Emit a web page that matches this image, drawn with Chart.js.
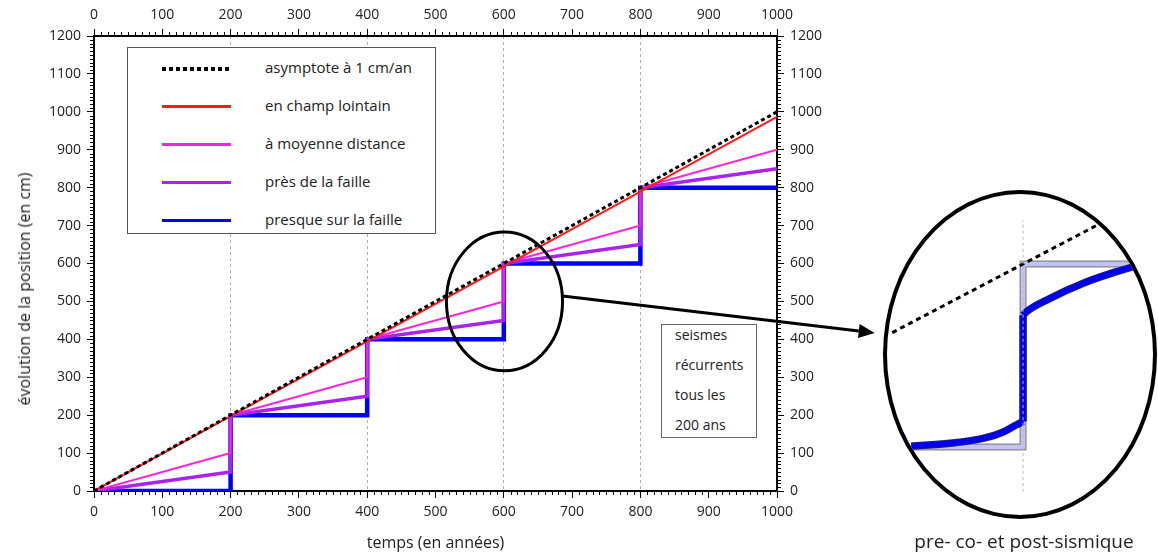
<!DOCTYPE html>
<html lang="fr">
<head>
<meta charset="utf-8">
<script src="https://cdn.jsdelivr.net/npm/chart.js@4.4.1/dist/chart.umd.min.js"></script>
<style>
  body { margin: 0; background: #fff; font-family: "Open Sans", sans-serif; color: #222; }
  #wrap { position: relative; width: 1158px; height: 554px; overflow: hidden; }
  #main { position: absolute; left: 0; top: 0; width: 1158px; height: 554px; }
  #ytitle { position: absolute; left: 24px; top: 289px; transform: translate(-50%, -50%) rotate(-90deg);
            white-space: nowrap; font-size: 16px; }
  #legend { position: absolute; left: 127px; top: 47px; width: 309px; height: 187px; box-sizing: border-box;
            border: 1.5px solid #555; background: #fff; }
  #legend .row { position: absolute; left: 0; height: 20px; }
  #legend .sample { position: absolute; left: 34px; width: 69px; height: 3px; top: 9px; }
  #legend .txt { position: absolute; left: 137px; top: -1px; font-size: 15px; white-space: nowrap; }
  #note { position: absolute; left: 661px; top: 324px; width: 96px; height: 114px; box-sizing: border-box;
          border: 1.5px solid #666; background: #fff; font-size: 14px; line-height: 30px; padding-left: 13px; }
  #note div { margin-top: -5px; }
  #inset { position: absolute; left: 883px; top: 190px; width: 274px; height: 329px; box-sizing: border-box;
           border: 4px solid #000; border-radius: 50%; overflow: hidden; background: #fff; }
  #insetTitle { position: absolute; left: 1024px; top: 528px; transform: translateX(-50%); font-size: 19px; white-space: nowrap; }
</style>
</head>
<body>
<div id="wrap">
  <div id="main"><canvas id="chart"></canvas></div>
  <div id="ytitle">évolution de la position (en cm)</div>
  <div id="legend"></div>
  <div id="note"><div>seismes<br>récurrents<br>tous les<br>200 ans</div></div>
  <div id="inset"><canvas id="zoomChart"></canvas></div>
  <div id="insetTitle">pre- co- et post-sismique</div>
</div>
<script>
// axes
const xTicksMin = 0, xTicksMax = 1000, xStep = 100;
const yTicksMin = 0, yTicksMax = 1200, yStep = 100;
const minorStep = 10;
const gridYears = [200, 400, 600, 800];

// main series (temps en années -> position en cm)
const lineYears = [0, 1000];
const asymptote = [0, 1000];
const champLointain = [0, 987];
const stepYears = [0, 200, 200, 400, 400, 600, 600, 800, 800, 1000];
const moyenneDistance = [0, 100, 200, 300, 400, 500, 600, 700, 800, 900];
const presFaille = [0, 50, 200, 250, 400, 450, 600, 650, 800, 850];
const surFaille = [0, 0, 200, 200, 400, 400, 600, 600, 800, 800];

const labels = ['asymptote à 1 cm/an', 'en champ lointain', 'à moyenne distance', 'près de la faille', 'presque sur la faille'];
const colors = ['#000000', '#ff1a1a', '#ff22dd', '#aa22f0', '#0000ff'];

// circled region and arrow (data units of the main chart)
const circleCenter = [601, 500];
const circleRadius = [85, 183];
const arrowFrom = [686, 514];
const arrowTo = [1143, 417];

// zoomed inset (around the earthquake at 600 ans)
const insetX = [522, 674.5];
const insetY = [325.7, 676.5];
const guideX = [600, 600], guideY = [351, 648];
const asymX = [525, 646];
const stepX = [536, 600, 600, 664], stepY = [400, 400, 600, 600];
const preX = [536, 558, 577, 589, 596, 600], preY = [401, 404, 409.5, 416.7, 424, 428];
const coX = [600, 600], coY = [428, 544];
const postX = [600, 602, 615.5, 634.5, 653.5, 665], postY = [544, 548, 562.5, 579, 591.6, 598];

const pts = (xs, ys) => xs.map((x, i) => ({ x: x, y: ys[i] }));

const datasets = [
  { label: labels[0], data: pts(lineYears, asymptote), borderColor: colors[0], borderWidth: 3, borderDash: [4, 3] },
  { label: labels[1], data: pts(lineYears, champLointain), borderColor: colors[1], borderWidth: 2 },
  { label: labels[2], data: pts(stepYears, moyenneDistance), borderColor: colors[2], borderWidth: 2 },
  { label: labels[3], data: pts(stepYears, presFaille), borderColor: colors[3], borderWidth: 3.5 },
  { label: labels[4], data: pts(stepYears, surFaille), borderColor: colors[4], borderWidth: 4.5 }
];

const tickFont = { family: '"Open Sans", sans-serif', size: 14 };

function axis(position, min, max, step, size, extra) {
  return Object.assign({
    type: 'linear', position: position, min: min, max: max,
    ticks: { stepSize: step, color: '#222', font: tickFont, padding: 6, callback: (v) => String(v) },
    grid: { drawOnChartArea: false, tickLength: 7, tickColor: '#000', tickWidth: 1 },
    border: { display: true, color: '#000', width: 2 },
    afterFit: (scale) => {
      if (scale.isHorizontal()) scale.height = size; else scale.width = size;
    }
  }, extra || {});
}

// minor ticks, circled area and arrow
const decorations = {
  id: 'decorations',
  afterDraw(chart) {
    const ctx = chart.ctx;
    const sx = chart.scales.x, sy = chart.scales.y;
    ctx.save();
    ctx.strokeStyle = '#000';
    ctx.lineWidth = 1;
    ['x', 'x2'].forEach(id => {
      const s = chart.scales[id];
      const y0 = id === 'x' ? sy.bottom : sy.top;
      const dir = id === 'x' ? 1 : -1;
      for (let v = s.min; v <= s.max; v += minorStep) {
        if (v % xStep === 0) continue;
        const px = Math.round(s.getPixelForValue(v)) + 0.5;
        ctx.beginPath(); ctx.moveTo(px, y0); ctx.lineTo(px, y0 + dir * 4); ctx.stroke();
      }
    });
    ['y', 'y2'].forEach(id => {
      const s = chart.scales[id];
      const x0 = id === 'y' ? sx.left : sx.right;
      const dir = id === 'y' ? -1 : 1;
      for (let v = s.min; v <= s.max; v += minorStep) {
        if (v % yStep === 0) continue;
        const py = Math.round(s.getPixelForValue(v)) + 0.5;
        ctx.beginPath(); ctx.moveTo(x0, py); ctx.lineTo(x0 + dir * 4, py); ctx.stroke();
      }
    });

    // ellipse around the 600 ans earthquake
    const cx = sx.getPixelForValue(circleCenter[0]);
    const cy = sy.getPixelForValue(circleCenter[1]);
    const rx = sx.getPixelForValue(circleCenter[0] + circleRadius[0]) - cx;
    const ry = cy - sy.getPixelForValue(circleCenter[1] + circleRadius[1]);
    ctx.lineWidth = 3;
    ctx.beginPath(); ctx.ellipse(cx, cy, rx, ry, 0, 0, Math.PI * 2); ctx.stroke();

    // arrow towards the inset
    const x1 = sx.getPixelForValue(arrowFrom[0]), y1 = sy.getPixelForValue(arrowFrom[1]);
    const x2 = sx.getPixelForValue(arrowTo[0]), y2 = sy.getPixelForValue(arrowTo[1]);
    const a = Math.atan2(y2 - y1, x2 - x1);
    const headLen = 16, headHalf = 7;
    const bx = x2 - headLen * Math.cos(a), by = y2 - headLen * Math.sin(a);
    ctx.beginPath(); ctx.moveTo(x1, y1); ctx.lineTo(bx, by); ctx.stroke();
    ctx.fillStyle = '#000';
    ctx.beginPath();
    ctx.moveTo(x2, y2);
    ctx.lineTo(bx + headHalf * Math.sin(a), by - headHalf * Math.cos(a));
    ctx.lineTo(bx - headHalf * Math.sin(a), by + headHalf * Math.cos(a));
    ctx.closePath(); ctx.fill();
    ctx.restore();
  }
};

const mainChart = new Chart(document.getElementById('chart'), {
  type: 'line',
  data: { datasets: datasets },
  options: {
    responsive: true,
    maintainAspectRatio: false,
    animation: false,
    layout: { padding: 0 },
    elements: { point: { radius: 0 }, line: { tension: 0, fill: false } },
    plugins: { legend: { display: false }, tooltip: { enabled: false } },
    scales: {
      x: axis('bottom', xTicksMin, xTicksMax, xStep, 63, {
        grid: {
          drawOnChartArea: true, tickLength: 7, tickColor: '#000', tickWidth: 1, lineWidth: 1,
          color: (c) => gridYears.includes(c.tick && c.tick.value) ? '#b0b0b0' : 'rgba(0,0,0,0)'
        },
        border: { display: true, color: '#000', width: 2, dash: [3, 3] },
        title: { display: true, text: 'temps (en années)', color: '#222',
                 font: { family: '"Open Sans", sans-serif', size: 16 }, padding: { top: 0, bottom: 1 } }
      }),
      x2: axis('top', xTicksMin, xTicksMax, xStep, 36),
      y: axis('left', yTicksMin, yTicksMax, yStep, 94),
      y2: axis('right', yTicksMin, yTicksMax, yStep, 381)
    }
  },
  plugins: [decorations]
});

// html legend from the datasets
const legendBox = document.getElementById('legend');
mainChart.data.datasets.forEach((ds, i) => {
  const row = document.createElement('div');
  row.className = 'row';
  row.style.top = (10 + i * 38) + 'px';
  const sample = document.createElement('div');
  sample.className = 'sample';
  if (ds.borderDash) {
    sample.style.height = '4px';
    sample.style.background = 'repeating-linear-gradient(90deg,' + ds.borderColor + ' 0 4px, transparent 4px 7px)';
  } else {
    sample.style.background = ds.borderColor;
  }
  const txt = document.createElement('div');
  txt.className = 'txt';
  txt.textContent = ds.label;
  row.appendChild(sample);
  row.appendChild(txt);
  legendBox.appendChild(row);
});

// zoomed inset
const blueSegments = [[preX, preY], [coX, coY], [postX, postY]];
const insetSets = [
  { data: pts(guideX, guideY), borderColor: '#b8b8b8', borderWidth: 1, borderDash: [3, 3] },
  { data: pts(asymX, asymX), borderColor: '#000', borderWidth: 3, borderDash: [5, 4] }
];
blueSegments.forEach(s => insetSets.push({ data: pts(s[0], s[1]), borderColor: '#0000f0', borderWidth: 5.5 }));
blueSegments.forEach(s => insetSets.push({ data: pts(s[0], s[1]), borderColor: '#202070', borderWidth: 7.5 }));
insetSets.push({ data: pts(stepX, stepY), borderColor: '#c2c2f4', borderWidth: 4.5 });
insetSets.push({ data: pts(stepX, stepY), borderColor: '#888', borderWidth: 7 });

new Chart(document.getElementById('zoomChart'), {
  type: 'line',
  data: { datasets: insetSets },
  options: {
    responsive: true,
    maintainAspectRatio: false,
    animation: false,
    layout: { padding: 0 },
    elements: { point: { radius: 0 }, line: { fill: false, cubicInterpolationMode: 'monotone' } },
    plugins: { legend: { display: false }, tooltip: { enabled: false } },
    scales: {
      x: { type: 'linear', display: false, min: insetX[0], max: insetX[1] },
      y: { type: 'linear', display: false, min: insetY[0], max: insetY[1] }
    }
  }
});
</script>
</body>
</html>
